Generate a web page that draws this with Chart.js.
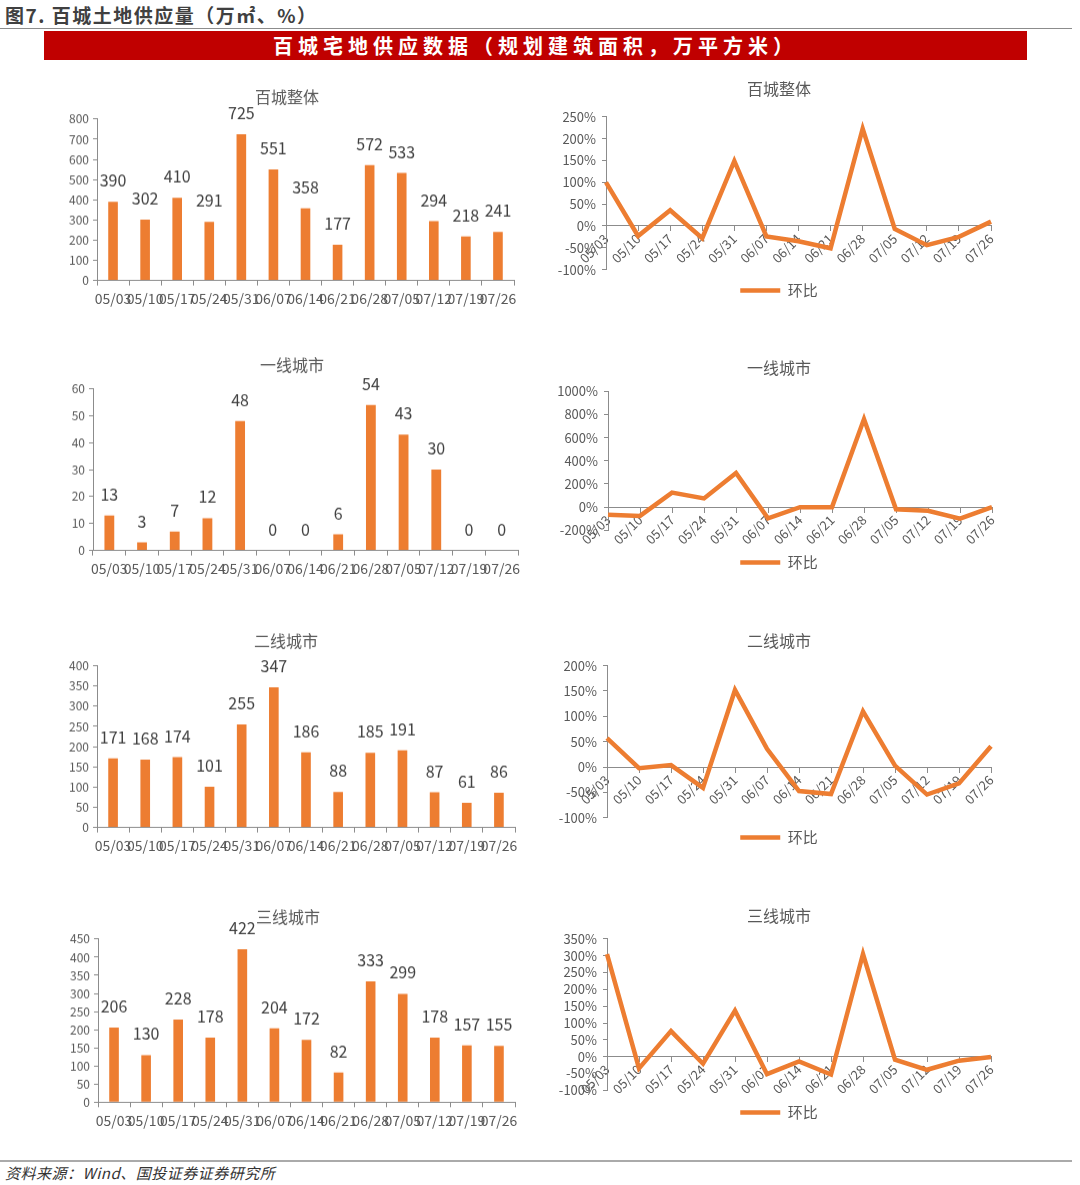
<!DOCTYPE html>
<html>
<head>
<meta charset="utf-8">
<script src="https://cdn.jsdelivr.net/npm/chart.js@4.4.1/dist/chart.umd.min.js"></script>
<style>
    html, body {
        margin: 0;
        padding: 0;
        background: #fff;
    }
    #page {
        position: relative;
        width: 1080px;
        height: 1185px;
        overflow: hidden;
        font-family: "Noto Sans CJK SC", sans-serif;
    }
    .heading {
        position: absolute;
        left: 5px;
        top: 1px;
        font-size: 19px;
        font-weight: bold;
        letter-spacing: 1.5px;
        color: #404040;
    }
    .rule {
        position: absolute;
        left: 0;
        width: 1072px;
        height: 1px;
        background: #8c8c8c;
    }
    .banner {
        position: absolute;
        left: 44px;
        top: 31px;
        width: 983px;
        height: 29px;
        line-height: 29px;
        background: #c00000;
        color: #fff;
        text-align: center;
        font-size: 20px;
        font-weight: bold;
        letter-spacing: 5px;
    }
    .source {
        position: absolute;
        left: 5px;
        top: 1162px;
        font-size: 15px;
        font-style: italic;
        letter-spacing: 0.5px;
        color: #333;
    }
    .box {
        position: absolute;
    }
</style>
</head>
<body>
<div id="page">
    <div class="heading">图7. 百城土地供应量（万㎡、%）</div>
    <div class="rule" style="top:28px"></div>
    <div class="banner">百城宅地供应数据（规划建筑面积，万平方米）</div>

    <div class="box" style="left:40px;top:83.4px;width:494px;height:226.6px"><canvas id="bar1"></canvas></div>
    <div class="box" style="left:552px;top:75.4px;width:454px;height:233.1px"><canvas id="line1"></canvas></div>

    <div class="box" style="left:40px;top:351.4px;width:504px;height:228.6px"><canvas id="bar2"></canvas></div>
    <div class="box" style="left:552px;top:354.4px;width:454px;height:226.1px"><canvas id="line2"></canvas></div>

    <div class="box" style="left:40px;top:627.4px;width:492px;height:229.6px"><canvas id="bar3"></canvas></div>
    <div class="box" style="left:552px;top:627.4px;width:454px;height:228.1px"><canvas id="line3"></canvas></div>

    <div class="box" style="left:40px;top:903.4px;width:496px;height:228.3px"><canvas id="bar4"></canvas></div>
    <div class="box" style="left:552px;top:902.4px;width:454px;height:228.1px"><canvas id="line4"></canvas></div>

    <div class="rule" style="top:1160px;height:2px;background:#aaa"></div>
    <div class="source">资料来源：Wind、国投证券证券研究所</div>
</div>

<script>
// data
const weeks = ['05/03', '05/10', '05/17', '05/24', '05/31', '06/07', '06/14', '06/21', '06/28', '07/05', '07/12', '07/19', '07/26']

const overallSupply = [390, 302, 410, 291, 725, 551, 358, 177, 572, 533, 294, 218, 241]
const tier1Supply = [13, 3, 7, 12, 48, 0, 0, 6, 54, 43, 30, 0, 0]
const tier2Supply = [171, 168, 174, 101, 255, 347, 186, 88, 185, 191, 87, 61, 86]
const tier3Supply = [206, 130, 228, 178, 422, 204, 172, 82, 333, 299, 178, 157, 155]

// 环比, %
const overallChange = [100, -23, 36, -28, 149, -24, -35, -51, 223, -7, -44, -25, 10]
const tier1Change = [-66, -76, 125, 75, 295, -97, 0, 0, 760, -18, -32, -100, 0]
const tier2Change = [57, -2, 4, -41, 152, 36, -47, -53, 110, 3, -54, -32, 41]
const tier3Change = [305, -35, 76, -21, 137, -52, -14, -53, 305, -9, -39, -12, -1]

const orange = '#ed7d31'
const axisGray = '#8c8c8c'
const textGray = '#595959'

Chart.defaults.font.family = '"Noto Sans CJK SC", sans-serif'
Chart.defaults.color = textGray

// value labels above bars
const barValueLabels = {
    id: 'barValueLabels',
    afterDatasetsDraw(chart) {
        const ctx = chart.ctx
        chart.data.datasets.forEach((ds, i) => {
            const meta = chart.getDatasetMeta(i)
            ctx.save()
            ctx.font = '16px "Noto Sans CJK SC", sans-serif'
            ctx.fillStyle = '#404040'
            ctx.textAlign = 'center'
            ctx.textBaseline = 'middle'
            meta.data.forEach((bar, j) => {
                ctx.fillText(ds.data[j], bar.x, bar.y - 21)
            })
            ctx.restore()
        })
    }
}

// rightGap shrinks the plot area only, so title and legend stay centred on the box
function barChart(id, title, values, yMax, yStep, yWidth, rightGap, titleGap) {
    return new Chart(document.getElementById(id), {
        type: 'bar',
        data: {
            labels: weeks,
            datasets: [{
                data: values,
                backgroundColor: orange,
                barPercentage: 0.3,
                categoryPercentage: 1,
            }],
        },
        options: {
            animation: false,
            maintainAspectRatio: false,
            scales: {
                x: {
                    grid: {
                        drawOnChartArea: false,
                        offset: true,
                        tickLength: 5,
                        color: axisGray
                    },
                    border: { color: axisGray },
                    ticks: {
                        autoSkip: false,
                        maxRotation: 0,
                        minRotation: 0,
                        padding: 5,
                        font: { size: 14 }
                    },
                    afterFit(scale) {
                        scale.height = 30
                        scale.paddingRight = rightGap
                    }
                },
                y: {
                    min: 0,
                    max: yMax,
                    grid: {
                        drawOnChartArea: false,
                        tickLength: 4,
                        color: axisGray
                    },
                    border: { color: axisGray },
                    ticks: {
                        autoSkip: false,
                        stepSize: yStep,
                        padding: 4,
                        font: { size: 12 }
                    },
                    afterFit(scale) {
                        scale.width = yWidth
                    }
                }
            },
            plugins: {
                legend: { display: false },
                tooltip: { enabled: false },
                title: {
                    display: true,
                    text: title,
                    color: textGray,
                    font: { size: 16, weight: 'normal' },
                    padding: { top: 4, bottom: titleGap }
                }
            }
        },
        plugins: [barValueLabels]
    })
}

function lineChart(id, title, values, yMin, yMax, yStep, yWidth, rightGap, titleGap, legendGap) {
    return new Chart(document.getElementById(id), {
        type: 'line',
        data: {
            labels: weeks,
            datasets: [{
                label: '环比',
                data: values,
                borderColor: orange,
                backgroundColor: orange,
                borderWidth: 4.5,
                pointRadius: 0,
                tension: 0,
            }],
        },
        options: {
            animation: false,
            maintainAspectRatio: false,
            scales: {
                x: {
                    position: { y: 0 },
                    offset: false,
                    grid: {
                        drawOnChartArea: false,
                        tickLength: 5,
                        color: axisGray
                    },
                    border: { color: axisGray },
                    ticks: {
                        autoSkip: false,
                        maxRotation: 45,
                        minRotation: 45,
                        padding: 0,
                        font: { size: 13 }
                    },
                    afterFit(scale) {
                        // axis sits on the 0% line, keep it out of the layout
                        scale.height = 0
                        scale.paddingRight = rightGap
                    }
                },
                y: {
                    min: yMin,
                    max: yMax,
                    grid: {
                        drawOnChartArea: false,
                        tickLength: 4,
                        color: axisGray
                    },
                    border: { color: axisGray },
                    ticks: {
                        autoSkip: false,
                        stepSize: yStep,
                        padding: 6,
                        font: { size: 13 },
                        callback: (v) => v + '%'
                    },
                    afterFit(scale) {
                        scale.width = yWidth
                    }
                }
            },
            plugins: {
                tooltip: { enabled: false },
                title: {
                    display: true,
                    text: title,
                    color: textGray,
                    font: { size: 16, weight: 'normal' },
                    padding: { top: 4, bottom: titleGap }
                },
                legend: {
                    position: 'bottom',
                    labels: {
                        usePointStyle: true,
                        pointStyle: 'line',
                        pointStyleWidth: 40,
                        padding: legendGap,
                        color: textGray,
                        font: { size: 15 }
                    }
                }
            }
        }
    })
}

barChart('bar1', '百城整体', overallSupply, 800, 100, 57, 20, 12.7)
barChart('bar2', '一线城市', tier1Supply, 60, 10, 53, 26, 14.4)
barChart('bar3', '二线城市', tier2Supply, 400, 50, 57, 17, 15.4)
barChart('bar4', '三线城市', tier3Supply, 450, 50, 58, 21, 12.7)

lineChart('line1', '百城整体', overallChange, -100, 250, 50, 54, 15, 18.7, 13.5)
lineChart('line2', '一线城市', tier1Change, -200, 1000, 200, 56, 14, 14.1, 24.8)
lineChart('line3', '二线城市', tier2Change, -100, 200, 50, 55, 15, 15.4, 12.2)
lineChart('line4', '三线城市', tier3Change, -100, 350, 50, 55, 15, 13.7, 14.8)
</script>
</body>
</html>
